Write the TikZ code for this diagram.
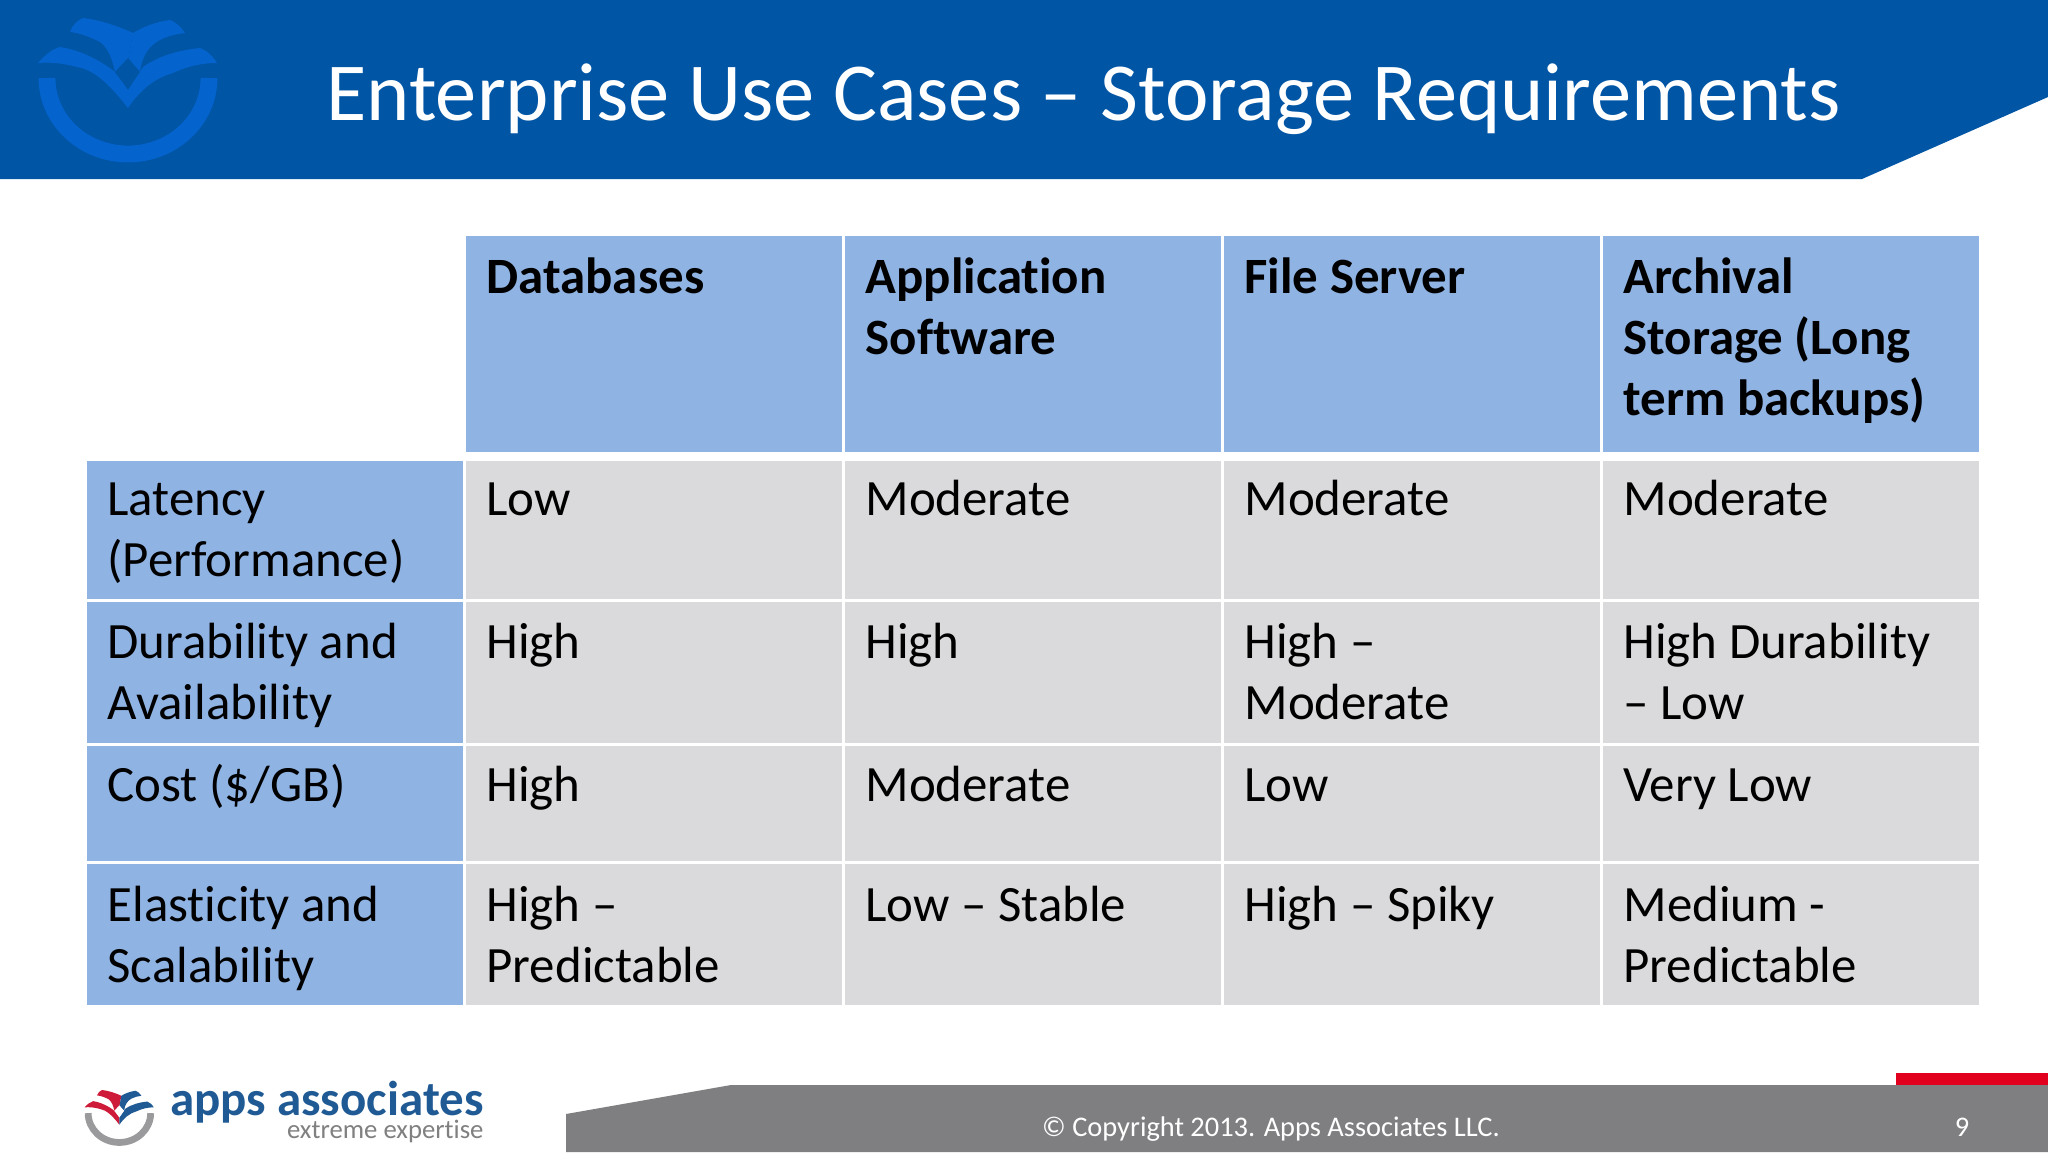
\documentclass[tikz,border=0pt]{standalone}
\usepackage{fontspec}
\setmainfont[Ligatures=NoCommon]{Carlito}
\usepackage{tikz}
\definecolor{titleblue}{HTML}{0155A5}
\definecolor{logoblue}{HTML}{0463CC}
\definecolor{headblue}{HTML}{8FB3E3}
\definecolor{cellgrey}{HTML}{DAD9DB}
\definecolor{footgrey}{HTML}{7F7E81}
\definecolor{footred}{HTML}{E2001F}
\definecolor{brandblue}{HTML}{1F5A94}
\definecolor{brandred}{HTML}{CE1B3A}
\definecolor{brandgrey}{HTML}{9A9A9C}
\tikzset{
  cellbox/.style={anchor=north west,inner sep=0pt,align=left,font=\fontsize{18.1}{21.7}\selectfont,text=black},
  headbox/.style={cellbox,font=\fontsize{18.1}{21.7}\selectfont\bfseries},
}
% left colour, right colour, arc colour, arc width, hole colour
\newcommand{\logomark}[5]{
  \draw[#3,line width=#4] (47,78) arc[start angle=180,end angle=0,x radius=81,y radius=76];
  \fill[#1] (38,63) .. controls (45,55) and (52,49) .. (60,47) .. controls (80,50) and (100,60) .. (115,72) -- (128,90) -- (128,108) .. controls (110,85) and (95,70) .. (77,67) .. controls (62,63) and (50,62) .. (38,63) -- cycle;
  \fill[#2] (217,63) .. controls (212,55) and (206,50) .. (200,48) .. controls (180,50) and (160,55) .. (143,67) -- (128,90) -- (128,108) .. controls (140,90) and (155,78) .. (173,73) .. controls (188,66) and (202,63) .. (217,63) -- cycle;
  \fill[#1] (70,32) .. controls (72,25) and (78,20) .. (83,18) .. controls (100,20) and (118,26) .. (133,33) -- (128,60) -- (115,72) .. controls (112,58) and (108,48) .. (100,42) .. controls (90,37) and (80,33) .. (70,32) -- cycle;
  \fill[#2] (185,33) .. controls (180,26) and (176,22) .. (170,20) .. controls (155,22) and (143,27) .. (133,33) -- (128,60) -- (140,72) .. controls (142,55) and (150,45) .. (160,40) .. controls (168,36) and (176,34) .. (185,33) -- cycle;
  \fill[#5] (128,58) -- (140,72) -- (128,88) -- (115,72) -- cycle;
}
\begin{document}
\begin{tikzpicture}[x=0.0125cm,y=-0.0125cm]
\useasboundingbox (0,0) rectangle (2048,1152);
\fill[white] (0,0) rectangle (2048,1152);
% banner
\fill[titleblue] (0,0) -- (2048,0) -- (2048,97) -- (1862,179) -- (0,179) -- cycle;
\logomark{logoblue}{logoblue}{logoblue}{6pt}{titleblue}
\node[anchor=base west,inner sep=0pt,text=white,font=\fontsize{29.3}{34}\selectfont] (title) at (326,120) {Enterprise Use Cases – Storage Requirements};
% table
\foreach \X/\Y/\H/\B/\C/\S/\T in {
  466/236/216/293/headblue/headbox/Databases,
  845/236/216/293/headblue/headbox/{Application\\Software},
  1224/236/216/293/headblue/headbox/File Server,
  1603/236/216/293/headblue/headbox/{Archival\\Storage (Long\\term backups)},
  87/461/138/515/headblue/cellbox/{Latency\\(Performance)},
  466/461/138/515/cellgrey/cellbox/Low,
  845/461/138/515/cellgrey/cellbox/Moderate,
  1224/461/138/515/cellgrey/cellbox/Moderate,
  1603/461/138/515/cellgrey/cellbox/Moderate,
  87/602/141/658/headblue/cellbox/{Durability and\\Availability},
  466/602/141/658/cellgrey/cellbox/High,
  845/602/141/658/cellgrey/cellbox/High,
  1224/602/141/658/cellgrey/cellbox/{High –\\Moderate},
  1603/602/141/658/cellgrey/cellbox/{High Durability\\– Low},
  87/746/115/801/headblue/cellbox/{Cost (\$/GB)},
  466/746/115/801/cellgrey/cellbox/High,
  845/746/115/801/cellgrey/cellbox/Moderate,
  1224/746/115/801/cellgrey/cellbox/Low,
  1603/746/115/801/cellgrey/cellbox/Very Low,
  87/864/141/921/headblue/cellbox/{Elasticity and\\Scalability},
  466/864/141/921/cellgrey/cellbox/{High –\\Predictable},
  845/864/141/921/cellgrey/cellbox/Low – Stable,
  1224/864/141/921/cellgrey/cellbox/High – Spiky,
  1603/864/141/921/cellgrey/cellbox/{Medium -\\Predictable}}
{
  \fill[\C] (\X,\Y) rectangle ++(376,\H);
  \node[\S] (cell\X\Y) at (\X+20,\B-42.7) {\strut\T};
}
% footer
\fill[footred] (1896,1073) rectangle (2048,1090);
\fill[footgrey] (566,1152) -- (566,1114) -- (731,1085) -- (2048,1085) -- (2048,1152) -- cycle;
\node[anchor=base,text=white,font=\fontsize{10.1}{12}\selectfont,inner sep=0pt] (copyright) at (1271,1136) {© Copyright 2013. Apps Associates LLC.};
\node[anchor=base,text=white,font=\fontsize{10.1}{12}\selectfont,inner sep=0pt] (pagenum) at (1962,1136) {9};
% logo
\begin{scope}[shift={(70,1083)},scale=0.386]
\logomark{brandred}{brandblue}{brandgrey}{2.4pt}{white}
\end{scope}
\node[anchor=base east,inner sep=0pt,text depth=0pt,text=brandblue,font=\fontsize{17.4}{18}\selectfont\bfseries] (brand) at (484,1115) {apps associates};
\node[anchor=base east,inner sep=0pt,text=gray,font=\fontsize{9.5}{10}\selectfont] (tagline) at (484,1138) {extreme expertise};
\end{tikzpicture}
\end{document}
